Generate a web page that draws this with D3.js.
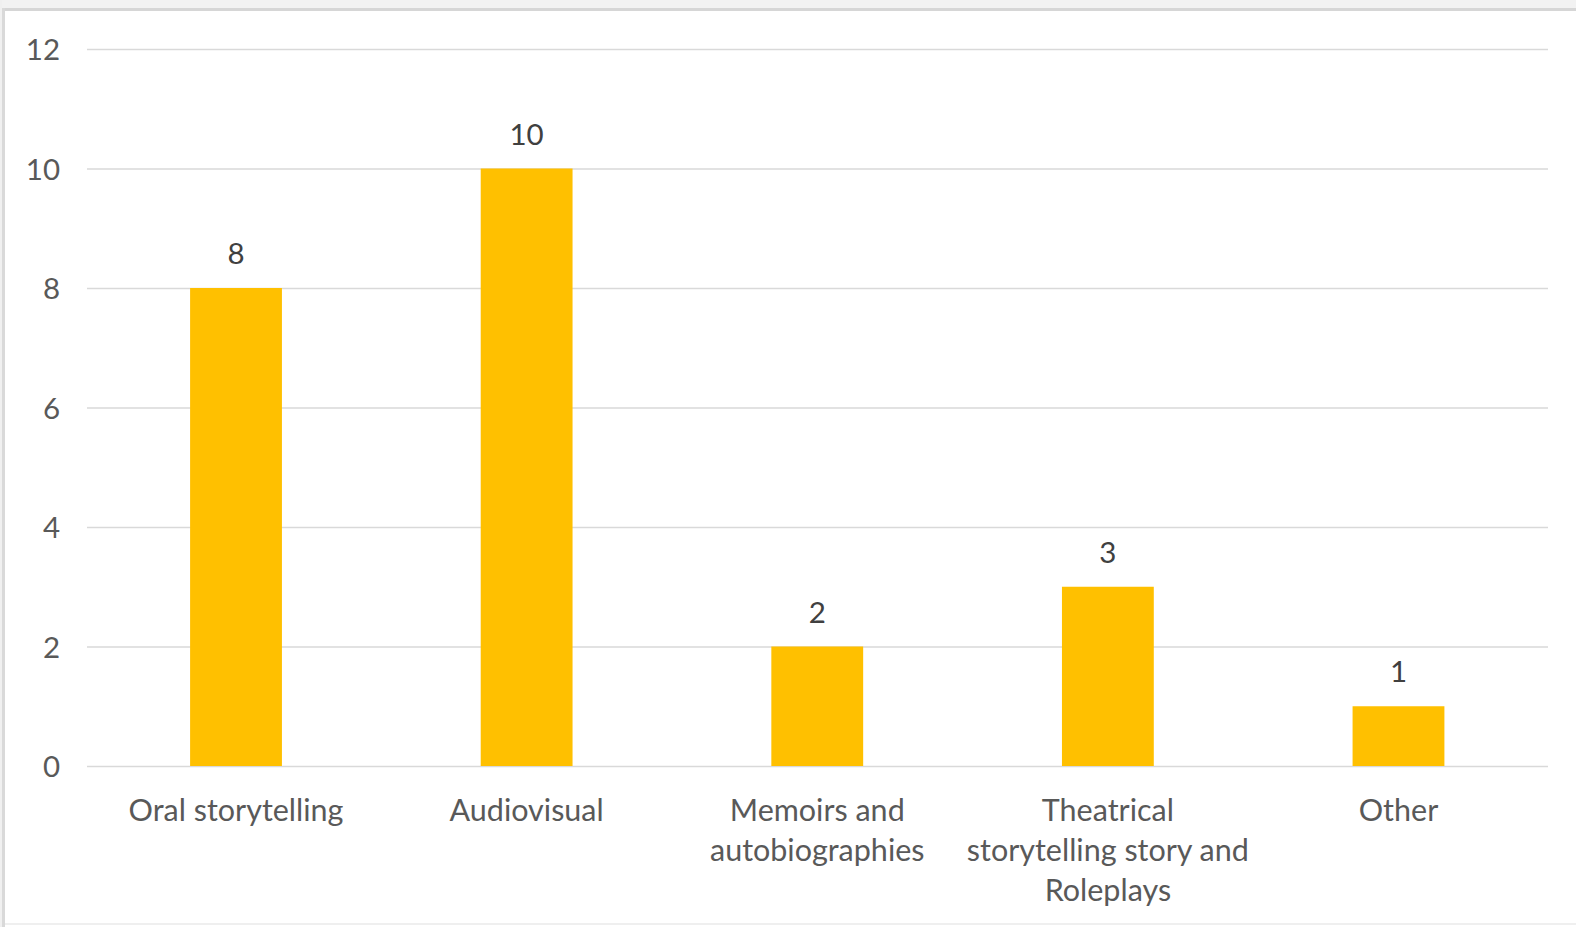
<!DOCTYPE html>
<html><head><meta charset="utf-8">
<script src="https://cdn.jsdelivr.net/npm/d3@7"></script>
<style>html,body{margin:0;padding:0;background:#fff;overflow:hidden}</style>
</head><body>
<svg id="c" width="1576" height="927"></svg>
<script>
const categories = [
  ["Oral storytelling"],
  ["Audiovisual"],
  ["Memoirs and", "autobiographies"],
  ["Theatrical", "storytelling story and", "Roleplays"],
  ["Other"]
];
const values = [8, 10, 2, 3, 1];
const yTicks = [0, 2, 4, 6, 8, 10, 12];

const svg = d3.select("#c");
const font = "Lato, 'Open Sans', sans-serif";

// frame
svg.append("rect").attr("x",0).attr("y",0).attr("width",1576).attr("height",927).attr("fill","#fff");
svg.append("rect").attr("x",0).attr("y",0).attr("width",1576).attr("height",8).attr("fill","#f2f2f2");
svg.append("rect").attr("x",0).attr("y",8).attr("width",1576).attr("height",3).attr("fill","#d6d6d6");
svg.append("rect").attr("x",0).attr("y",0).attr("width",2).attr("height",927).attr("fill","#f0f0f0");
svg.append("rect").attr("x",2).attr("y",8).attr("width",3).attr("height",919).attr("fill","#d9d9d9");
svg.append("rect").attr("x",5).attr("y",923).attr("width",1571).attr("height",2).attr("fill","#efefef");

const idx = categories.map((d,i)=>i);
const x = d3.scaleBand().domain(idx).range([90.7, 1543.8]).paddingInner(0.684).paddingOuter(0.342);
const y = d3.scaleLinear().domain([0, 12]).range([766, 49]);

// gridlines
const yAxis = d3.axisLeft(y).tickValues(yTicks).tickSize(-(1548-87)).tickPadding(27);
const gy = svg.append("g").attr("transform","translate(87,0)").call(yAxis);
gy.select(".domain").remove();
gy.selectAll(".tick line").attr("stroke","#d9d9d9").attr("stroke-width",1.5);
gy.selectAll(".tick text").attr("fill","#595959").attr("font-family",font).attr("font-size",29.5).attr("dy","0.36em");

// bars
svg.append("g").selectAll("rect").data(values).join("rect")
  .attr("x",(d,i)=>x(i)).attr("width",x.bandwidth())
  .attr("y",d=>y(d)).attr("height",d=>y(0)-y(d))
  .attr("fill","#FFC000");

// data labels
svg.append("g").selectAll("text").data(values).join("text")
  .attr("x",(d,i)=>x(i)+x.bandwidth()/2).attr("y",d=>y(d)-24)
  .attr("text-anchor","middle").attr("fill","#404040")
  .attr("font-family",font).attr("font-size",29.5).text(d=>d);

// category labels
const gx = svg.append("g");
categories.forEach((lines,i)=>{
  const t = gx.append("text").attr("text-anchor","middle").attr("fill","#595959")
    .attr("font-family",font).attr("font-size",30.5);
  lines.forEach((ln,j)=>{
    t.append("tspan").attr("x",x(i)+x.bandwidth()/2).attr("y",y(0)+55+j*40.2).text(ln);
  });
});
</script>
</body></html>
